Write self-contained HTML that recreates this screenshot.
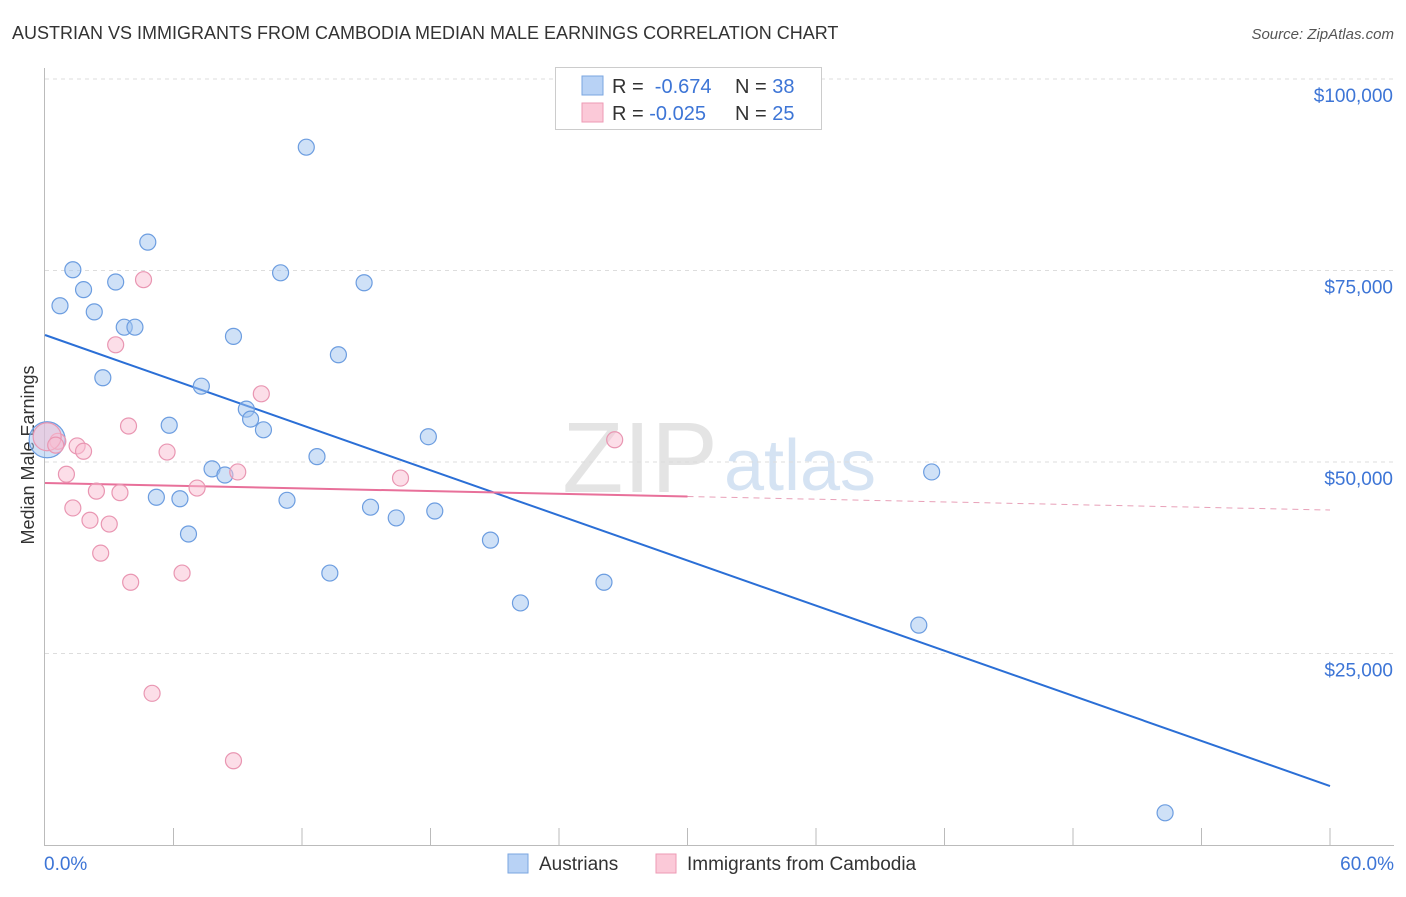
<!DOCTYPE html>
<html><head><meta charset="utf-8"><style>
body{margin:0;background:#fff;font-family:"Liberation Sans",sans-serif;}
svg text{font-family:"Liberation Sans",sans-serif;}
</style></head><body>
<svg id="c" width="1406" height="892" xmlns="http://www.w3.org/2000/svg">
<text x="12" y="39" font-size="18" fill="#333">AUSTRIAN VS IMMIGRANTS FROM CAMBODIA MEDIAN MALE EARNINGS CORRELATION CHART</text>
<text x="1394" y="39" font-size="15" fill="#555" font-style="italic" text-anchor="end">Source: ZipAtlas.com</text>
<text x="640" y="492" font-size="100" fill="#e4e4e4" font-family="Liberation Serif" text-anchor="middle">ZIP</text>
<text x="800" y="490" font-size="72" fill="#d5e3f3" text-anchor="middle">atlas</text>
<text transform="translate(34,455) rotate(-90)" font-size="18" fill="#333" text-anchor="middle">Median Male Earnings</text>
<g id="grid"></g><g id="ticks"></g><g id="lines"></g><g id="pts"></g>
<g>
<rect x="555.5" y="67.5" width="266" height="62" fill="#fff" stroke="#ccc"/>
<rect x="582" y="76" width="21" height="19" fill="#b8d2f5" stroke="#7aa6e0"/>
<rect x="582" y="103" width="21" height="19" fill="#fbc9d8" stroke="#ee9ab4"/>
<text x="612" y="93" font-size="20" fill="#333">R = <tspan fill="#3d75d6">&#160;-0.674</tspan><tspan x="735">N = </tspan><tspan fill="#3d75d6">38</tspan></text>
<text x="612" y="120" font-size="20" fill="#333">R = <tspan fill="#3d75d6">-0.025</tspan><tspan x="735">N = </tspan><tspan fill="#3d75d6">25</tspan></text>
</g>
<g>
<rect x="508" y="854" width="20" height="19" fill="#b8d2f5" stroke="#7aa6e0"/>
<text x="539" y="870" font-size="19" fill="#333">Austrians</text>
<rect x="656" y="854" width="20" height="19" fill="#fbc9d8" stroke="#ee9ab4"/>
<text x="687" y="870" font-size="19" fill="#333">Immigrants from Cambodia</text>
</g>
<text x="44" y="870" font-size="19" fill="#3d75d6">0.0%</text>
<text x="1394" y="870" font-size="19" fill="#3d75d6" text-anchor="end">60.0%</text>
</svg>
<script>
const yTicks=[25000,50000,75000,100000];
const yTickLabels=["$25,000","$50,000","$75,000","$100,000"];
const blueX=[12.2,4.8,1.3,11.0,3.3,14.9,1.8,0.7,2.3,3.7,4.2,8.8,13.7,2.7,7.3,9.4,9.6,5.8,10.2,17.9,12.7,7.8,8.4,41.4,5.2,6.3,11.3,15.2,16.4,18.2,6.7,20.8,13.3,26.1,22.2,40.8,52.3,0.1];
const blueY=[91100,78700,75100,74700,73500,73400,72500,70400,69600,67600,67600,66400,64000,61000,59900,56900,55600,54800,54200,53300,50700,49100,48300,48700,45400,45200,45000,44100,42700,43600,40600,39800,35500,34300,31600,28700,4200,52900];
const pinkX=[4.6,3.3,10.1,3.9,26.6,0.6,1.5,1.8,5.7,9.0,1.0,16.6,2.4,7.1,3.5,1.3,2.1,3.0,2.6,6.4,4.0,5.0,8.8,0.1,0.5];
const pinkY=[73800,65300,58900,54700,52900,52700,52100,51400,51300,48700,48400,47900,46200,46600,46000,44000,42400,41900,38100,35500,34300,19800,11000,53300,52200];
const blueTrend=[66580,7700];
const pinkTrend=[47260,43730];
const NS="http://www.w3.org/2000/svg";
const xs=v=>45+v/60*1285, ys=v=>845-v/100000*766;
function mk(t,a,p){const e=document.createElementNS(NS,t);for(const k in a)e.setAttribute(k,a[k]);document.getElementById(p).appendChild(e);return e;}
yTicks.forEach((t,i)=>{
 const g=mk('line',{x1:45,x2:1394,y1:ys(t),y2:ys(t),stroke:'#ddd','stroke-dasharray':'4,4'},'grid');
 
 
 const tx=mk('text',{x:1393,y:ys(t)+23,'font-size':19,fill:'#3d75d6','text-anchor':'end'},'grid');
 tx.textContent=yTickLabels[i];
 
 
});
const topGrid=mk('line',{x1:45,x2:1394,y1:79,y2:79,stroke:'#ddd','stroke-dasharray':'4,4'},'grid');


const ax=mk('line',{x1:44.5,x2:44.5,y1:68,y2:845,stroke:'#bbb'},'ticks');


const bx=mk('line',{x1:44,x2:1394,y1:845.5,y2:845.5,stroke:'#bbb'},'ticks');


for(let i=1;i<=10;i++){const t=mk('line',{x1:xs(i*6),x2:xs(i*6),y1:828,y2:845,stroke:'#bbb'},'ticks');
 
 }
const bl=mk('line',{x1:xs(0),y1:ys(blueTrend[0]),x2:xs(60),y2:ys(blueTrend[1]),stroke:'#2b6fd6','stroke-width':2},'lines');


const pm=pinkTrend[0]+(pinkTrend[1]-pinkTrend[0])*0.5;
const pl=mk('line',{x1:xs(0),y1:ys(pinkTrend[0]),x2:xs(30),y2:ys(pm),stroke:'#e8709a','stroke-width':2},'lines');


const pd=mk('line',{x1:xs(30),y1:ys(pm),x2:xs(60),y2:ys(pinkTrend[1]),stroke:'#e8a0b8','stroke-width':1,'stroke-dasharray':'6,5'},'lines');


blueX.forEach((x,i)=>{const big=i===blueX.length-1;
 const c=mk('circle',{cx:xs(x),cy:ys(blueY[i]),r:big?18:8,fill:'rgba(160,195,240,0.5)',stroke:'#6c9de0','stroke-width':1.2},'pts');
 
 });
pinkX.forEach((x,i)=>{const big=i===pinkX.length-2;
 const c=mk('circle',{cx:xs(x),cy:ys(pinkY[i]),r:big?14:8,fill:'rgba(250,190,210,0.5)',stroke:'#e996b2','stroke-width':1.2},'pts');
 
 });
</script>
</body></html>
